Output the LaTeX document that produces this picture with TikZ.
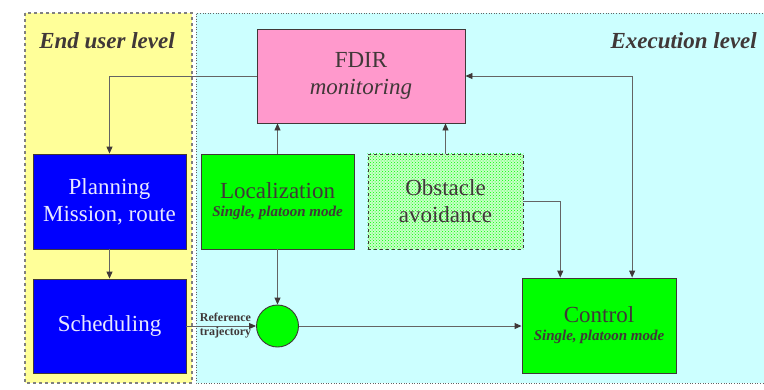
\documentclass[tikz,border=0pt]{standalone}
\usepackage{fontspec}
\setmainfont{Liberation Serif}
\usetikzlibrary{arrows.meta,calc,patterns}

\definecolor{inkc}{RGB}{64,56,56}
\definecolor{linec}{RGB}{100,100,100}
\definecolor{usery}{RGB}{255,255,153}
\definecolor{execc}{RGB}{204,255,255}
\definecolor{fdirc}{RGB}{255,153,204}
\definecolor{blueb}{RGB}{0,0,255}
\definecolor{greenb}{RGB}{0,255,0}
\definecolor{paleg}{RGB}{200,255,200}
\definecolor{bluetxt}{RGB}{232,232,255}

% small bold-italic second line inside the green blocks
\newcommand{\modefont}{\fontsize{15}{18}\selectfont\bfseries\itshape}

\tikzset{
  box/.style={draw=inkc, line width=0.9pt, rectangle, align=center,
    text=inkc, font=\fontsize{23}{27}\selectfont, inner sep=0pt},
  bluebox/.style={box, fill=blueb, text=bluetxt},
  greenbox/.style={box, fill=greenb, font=\fontsize{23}{18}\selectfont},
  arr/.style={draw=linec, line width=0.9pt,
    -{Triangle[length=7pt,width=6pt,color=inkc]}},
  title/.style={text=inkc, font=\fontsize{23}{27}\selectfont\bfseries\itshape, inner sep=0pt}
}

\begin{document}
\begin{tikzpicture}[x=1pt,y=-1pt]
\useasboundingbox (0,0) rectangle (764,389);

% level backgrounds
\fill[execc] (196,13) rectangle (770,383);
\draw[linec, dotted, line width=0.6pt] (770,13) -- (196,13) -- (196,383) -- (770,383);
\fill[usery] (25,13) rectangle (192,383);
\draw[gray, line width=1.4pt, dash pattern=on 3pt off 3pt] (25,13) rectangle (192,383);

\node[title, anchor=base] (tuser) at (107,48) {End user level};
\node[title, anchor=base east] (texec) at (757,48) {Execution level};

% blocks
\node[box, fill=fdirc, minimum width=208pt, minimum height=94pt] (fdir) at (361,76)
  {FDIR\\\textit{monitoring}};
\node[bluebox, minimum width=153pt, minimum height=95pt] (plan) at (109.5,201.5)
  {Planning\\Mission, route};
\node[bluebox, minimum width=153pt, minimum height=94pt] (sched) at (109.5,326)
  {Scheduling};
\node[greenbox, minimum width=153pt, minimum height=95pt] (loc) at (277.5,201.5)
  {Localization\\{\modefont Single, platoon mode}};
\node[box, fill=paleg, draw=none, minimum width=155pt, minimum height=95pt] (obsbg) at (445.5,201.5) {};
\fill[pattern=crosshatch dots, pattern color=greenb] (obsbg.north west) rectangle (obsbg.south east);
\node[box, draw=inkc, dashed, line width=0.8pt, minimum width=155pt, minimum height=95pt] (obs) at (445.5,201.5)
  {Obstacle\\avoidance};
\node[greenbox, minimum width=154pt, minimum height=95pt] (ctrl) at (599,325.5)
  {Control\\{\modefont Single, platoon mode}};
\node[circle, draw=inkc, line width=0.9pt, fill=greenb, minimum size=42pt, inner sep=0pt] (sum) at (277.5,326) {};

% connectors
\coordinate (cobs) at ($(ctrl.north west)!0.25!(ctrl.north east)$);
\coordinate (cfd) at ($(ctrl.north west)!0.714!(ctrl.north east)$);

\draw[arr] (fdir.west) -| (plan.north);
\draw[arr] (plan.south) -- (sched.north);
\draw[arr] (sched.east) -- (sum.west);
\draw[arr] (loc.north) -- (loc.north |- fdir.south);
\draw[arr] (loc.south) -- (sum.north);
\draw[arr] (obs.north) -- (obs.north |- fdir.south);
\draw[arr] (obs.east) -| (cobs);
\draw[arr, {Triangle[length=7pt,width=6pt,color=inkc]}-{Triangle[length=7pt,width=6pt,color=inkc]}] (fdir.east) -| (cfd);
\draw[arr] (sum.east) -- (sum.east -| ctrl.west);

\node[text=inkc, align=center, font=\fontsize{12}{14}\selectfont\bfseries, inner sep=0pt] (reflbl) at (225.5,326)
  {Reference\\trajectory};
\end{tikzpicture}
\end{document}
